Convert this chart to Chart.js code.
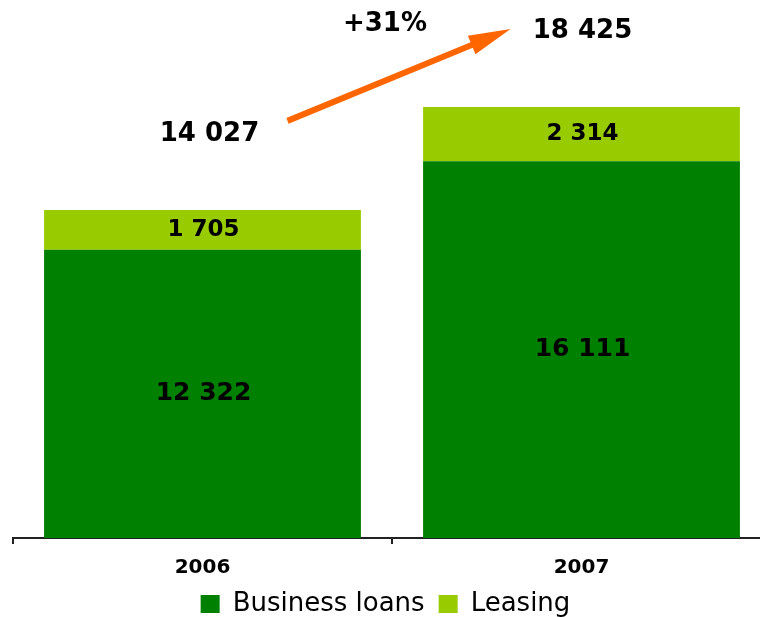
<!DOCTYPE html>
<html>
<head>
<meta charset="utf-8">
<script src="https://cdn.jsdelivr.net/npm/chart.js@4"></script>
<style>
  html, body { margin: 0; padding: 0; background: #ffffff; overflow: hidden; }
  #wrap { width: 760px; height: 617px; position: relative; overflow: hidden; }
  #c { display: block; }
</style>
</head>
<body>
<div id="wrap"><canvas id="c" width="771" height="627"></canvas></div>
<script>
const categories = ['2006', '2007'];
const businessLoans = [12322, 16111];
const leasing = [1705, 2314];
const totals = [14027, 18425];
const growthLabel = '+31%';

function fmt(v) {
  return String(v).replace(/\B(?=(\d{3})+(?!\d))/g, ' ');
}

const labelSizes = [25, 23];

const labelPlugin = {
  id: 'labels',
  afterDatasetsDraw(chart) {
    const ctx = chart.ctx;
    ctx.save();
    ctx.fillStyle = '#000000';
    ctx.textAlign = 'center';
    ctx.textBaseline = 'middle';
    chart.data.datasets.forEach((ds, di) => {
      ctx.font = 'bold ' + labelSizes[di] + 'px "DejaVu Sans"';
      const meta = chart.getDatasetMeta(di);
      meta.data.forEach((bar, i) => {
        const cy = (bar.y + bar.base) / 2;
        ctx.fillText(fmt(ds.data[i]), bar.x + 1, cy);
      });
    });
    const xs = chart.scales.x, ys = chart.scales.y;
    ctx.font = 'bold 26px "DejaVu Sans"';
    const pts = totals.map((t, i) => ({
      x: xs.getPixelForValue(i),
      y: ys.getPixelForValue(t) - 77
    }));
    ctx.fillText(fmt(totals[0]), pts[0].x + 7, pts[0].y + 1);
    ctx.fillText(fmt(totals[1]), pts[1].x + 1, pts[1].y + 1);

    // arrow between totals
    const sx = pts[0].x + 85, sy = pts[0].y - 12;
    const ex = pts[1].x - 71, ey = pts[1].y - 1;
    const ang = Math.atan2(ey - sy, ex - sx);
    const headLen = 42, headW = 10;
    const bx = ex - headLen * Math.cos(ang), by = ey - headLen * Math.sin(ang);
    ctx.strokeStyle = '#FF6600';
    ctx.fillStyle = '#FF6600';
    ctx.lineWidth = 6;
    ctx.beginPath();
    ctx.moveTo(sx, sy);
    ctx.lineTo(bx + 4 * Math.cos(ang), by + 4 * Math.sin(ang));
    ctx.stroke();
    ctx.beginPath();
    ctx.moveTo(ex, ey);
    ctx.lineTo(bx + headW * Math.sin(ang), by - headW * Math.cos(ang));
    ctx.lineTo(bx - headW * Math.sin(ang), by + headW * Math.cos(ang));
    ctx.closePath();
    ctx.fill();

    ctx.fillStyle = '#000000';
    ctx.font = 'bold 26px "DejaVu Sans"';
    ctx.fillText(growthLabel, (sx + ex) / 2 - 14, pts[1].y - 6);
    ctx.restore();
  }
};

new Chart(document.getElementById('c'), {
  type: 'bar',
  data: {
    labels: categories,
    datasets: [
      { label: 'Business loans', data: businessLoans, backgroundColor: '#008000', borderWidth: 0,
        categoryPercentage: 0.836, barPercentage: 1 },
      { label: 'Leasing', data: leasing, backgroundColor: '#99CC00', borderWidth: 0,
        categoryPercentage: 0.836, barPercentage: 1 }
    ]
  },
  options: {
    responsive: false,
    animation: false,
    layout: { padding: { left: 0, right: 0, top: 0, bottom: 0 } },
    plugins: {
      legend: {
        position: 'bottom',
        labels: {
          boxWidth: 19,
          boxHeight: 18,
          padding: 14,
          color: '#000000',
          font: { family: '"DejaVu Sans"', size: 26 }
        }
      },
      tooltip: { enabled: false }
    },
    scales: {
      x: {
        stacked: true,
        border: { display: true, color: '#222222', width: 2 },
        grid: { display: true, drawOnChartArea: false, drawTicks: true, tickLength: 6, color: '#222222', lineWidth: 2, offset: true },
        ticks: { color: '#000000', padding: 12, font: { family: '"DejaVu Sans"', size: 20, weight: 'bold' } },
        afterFit(scale) { scale.height -= 15; }
      },
      y: {
        stacked: true,
        display: true,
        min: 0,
        max: 23000,
        border: { display: false },
        grid: { display: false },
        ticks: { display: false },
        afterFit(scale) { scale.width = 13; }
      }
    }
  },
  plugins: [labelPlugin]
});
</script>
</body>
</html>
